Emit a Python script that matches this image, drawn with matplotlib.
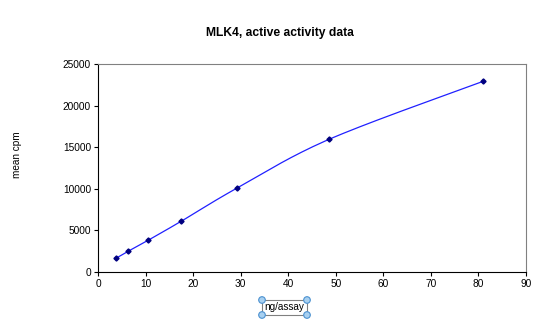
import numpy as np
import matplotlib.pyplot as plt
from matplotlib.patches import Rectangle, Circle

ng = [3.78, 6.3, 10.5, 17.5, 29.16, 48.6, 81.0]
cpm = [1650, 2480, 3800, 6100, 10060, 15950, 22920]
xticks = list(range(0, 100, 10))
yticks = list(range(0, 30000, 5000))

plt.rcParams['font.family'] = ['Liberation Sans', 'DejaVu Sans']


def smooth(x, y, n=30, t=1/6):
    # excel-like smoothed line: bezier through points
    x = np.asarray(x, float); y = np.asarray(y, float)
    px = np.concatenate([[x[0]], x, [x[-1]]])
    py = np.concatenate([[y[0]], y, [y[-1]]])
    xs, ys = [], []
    s = np.linspace(0, 1, n)
    for i in range(1, len(px) - 2):
        p0 = np.array([px[i], py[i]]); p3 = np.array([px[i + 1], py[i + 1]])
        p1 = p0 + t * (np.array([px[i + 1], py[i + 1]]) - np.array([px[i - 1], py[i - 1]]))
        p2 = p3 - t * (np.array([px[i + 2], py[i + 2]]) - np.array([px[i], py[i]]))
        b = ((1 - s) ** 3)[:, None] * p0 + (3 * (1 - s) ** 2 * s)[:, None] * p1 \
            + (3 * (1 - s) * s ** 2)[:, None] * p2 + (s ** 3)[:, None] * p3
        xs.extend(b[:, 0]); ys.extend(b[:, 1])
    return xs, ys


fig = plt.figure(figsize=(5.41, 3.31), dpi=100)
ax = fig.add_axes([98 / 541, 1 - 272 / 331, 428 / 541, 208 / 331])

sx, sy = smooth(ng, cpm)
ax.plot(sx, sy, color='#2020ff', lw=0.9)
ax.plot(ng, cpm, 'D', color='#000080', ms=2.6, mec='#000080')

ax.set_xlim(0, 90)
ax.set_ylim(0, 25000)
ax.set_xticks(xticks)
ax.set_yticks(yticks)
ax.tick_params(labelsize=7.3, length=3, width=0.8, direction='out', pad=2)
for s in ['top', 'right']:
    ax.spines[s].set_color('#808080')
    ax.spines[s].set_linewidth(0.8)
for s in ['left', 'bottom']:
    ax.spines[s].set_color('black')
    ax.spines[s].set_linewidth(0.8)

fig.text(280 / 541, 1 - 33 / 331, 'MLK4, active activity data', ha='center', va='center',
         fontsize=8.7, fontweight='bold')
fig.text(17 / 541, 1 - 155 / 331, 'mean cpm', rotation=90, ha='center', va='center', fontsize=7.2)

# x-axis title in its selected text box
bx0, by0, bw, bh = 262 / 541, 1 - 315 / 331, 45 / 541, 15 / 331
fig.patches.append(Rectangle((bx0, by0), bw, bh, transform=fig.transFigure,
                             fill=False, ec='#808080', lw=0.8))
fig.text(bx0 + bw / 2, by0 + bh / 2, 'ng/assay', ha='center', va='center', fontsize=7.2)
for cx in (bx0, bx0 + bw):
    for cy in (by0, by0 + bh):
        fig.patches.append(Circle((cx * 541, cy * 331), 3.3, transform=None,
                                  fc='#a8d0f0', ec='#4a90d0', lw=0.8))

fig.savefig('out.png', dpi=100)
